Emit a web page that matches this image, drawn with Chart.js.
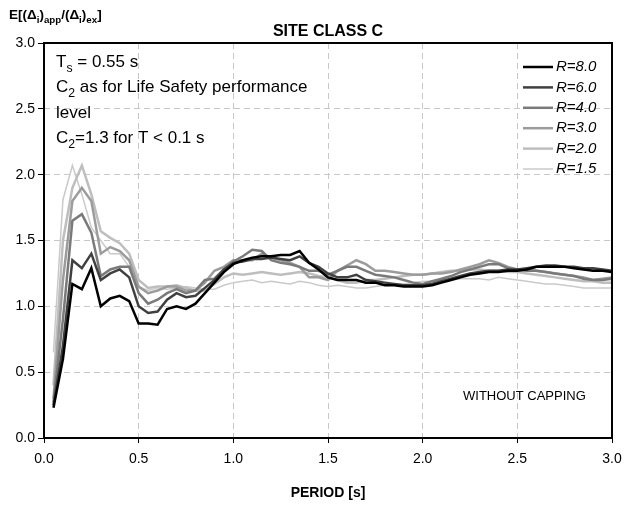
<!DOCTYPE html>
<html>
<head>
<meta charset="utf-8">
<script src="https://cdn.jsdelivr.net/npm/chart.js@4/dist/chart.umd.min.js"></script>
<style>
  html, body { margin: 0; padding: 0; background: #fff; }
</style>
</head>
<body>
<canvas id="chart" width="640" height="506"></canvas>
<script>
// Period values [s]
const periods = [0.05, 0.10, 0.15, 0.20, 0.25, 0.30, 0.35, 0.40, 0.45, 0.50,
  0.55, 0.60, 0.65, 0.70, 0.75, 0.80, 0.85, 0.90, 0.95, 1.00,
  1.05, 1.10, 1.15, 1.20, 1.25, 1.30, 1.35, 1.40, 1.45, 1.50,
  1.55, 1.60, 1.65, 1.70, 1.75, 1.80, 1.85, 1.90, 1.95, 2.00,
  2.05, 2.10, 2.15, 2.20, 2.25, 2.30, 2.35, 2.40, 2.45, 2.50,
  2.55, 2.60, 2.65, 2.70, 2.75, 2.80, 2.85, 2.90, 2.95, 3.00];

const r80 = [0.23, 0.60, 1.17, 1.13, 1.29, 1.00, 1.06, 1.08, 1.04, 0.87,
  0.87, 0.86, 0.98, 1.00, 0.98, 1.02, 1.10, 1.18, 1.26, 1.32,
  1.35, 1.37, 1.38, 1.38, 1.39, 1.39, 1.42, 1.33, 1.28, 1.22,
  1.20, 1.20, 1.20, 1.18, 1.18, 1.16, 1.16, 1.15, 1.15, 1.15,
  1.16, 1.18, 1.20, 1.22, 1.24, 1.25, 1.26, 1.26, 1.27, 1.27,
  1.28, 1.30, 1.30, 1.30, 1.30, 1.29, 1.28, 1.27, 1.27, 1.26];

const r60 = [0.25, 0.70, 1.35, 1.29, 1.40, 1.20, 1.25, 1.28, 1.22, 1.00,
  0.95, 0.96, 1.05, 1.10, 1.07, 1.08, 1.14, 1.20, 1.28, 1.33,
  1.34, 1.36, 1.36, 1.37, 1.36, 1.35, 1.38, 1.33, 1.30, 1.25,
  1.22, 1.22, 1.24, 1.20, 1.19, 1.18, 1.17, 1.16, 1.16, 1.16,
  1.17, 1.19, 1.21, 1.23, 1.25, 1.26, 1.27, 1.27, 1.28, 1.28,
  1.29, 1.30, 1.31, 1.31, 1.30, 1.30, 1.29, 1.29, 1.28, 1.27];

const r40 = [0.27, 0.90, 1.65, 1.70, 1.56, 1.23, 1.28, 1.30, 1.30, 1.10,
  1.02, 1.05, 1.10, 1.13, 1.10, 1.12, 1.20, 1.21, 1.28, 1.34,
  1.38, 1.43, 1.42, 1.35, 1.33, 1.32, 1.30, 1.27, 1.27, 1.24,
  1.27, 1.30, 1.30, 1.27, 1.24, 1.23, 1.22, 1.20, 1.18, 1.17,
  1.19, 1.21, 1.23, 1.26, 1.28, 1.30, 1.32, 1.32, 1.29, 1.28,
  1.27, 1.27, 1.26, 1.25, 1.24, 1.23, 1.21, 1.20, 1.20, 1.21];

const r30 = [0.30, 1.20, 1.80, 1.90, 1.80, 1.40, 1.45, 1.42, 1.35, 1.15,
  1.10, 1.12, 1.15, 1.15, 1.12, 1.12, 1.18, 1.27, 1.30, 1.35,
  1.35, 1.35, 1.40, 1.37, 1.35, 1.33, 1.30, 1.22, 1.22, 1.20,
  1.27, 1.31, 1.35, 1.32, 1.27, 1.27, 1.26, 1.25, 1.24, 1.24,
  1.25, 1.25, 1.26, 1.28, 1.30, 1.32, 1.35, 1.33, 1.30, 1.28,
  1.28, 1.27, 1.26, 1.25, 1.24, 1.23, 1.22, 1.20, 1.21, 1.22];

const r20 = [0.40, 1.50, 1.90, 2.07, 1.85, 1.57, 1.52, 1.48, 1.40, 1.20,
  1.14, 1.15, 1.15, 1.16, 1.14, 1.12, 1.12, 1.17, 1.22, 1.25,
  1.24, 1.25, 1.26, 1.25, 1.24, 1.25, 1.26, 1.25, 1.23, 1.22,
  1.20, 1.18, 1.18, 1.20, 1.20, 1.21, 1.22, 1.23, 1.24, 1.24,
  1.25, 1.26, 1.27, 1.27, 1.28, 1.28, 1.27, 1.27, 1.26, 1.26,
  1.25, 1.24, 1.23, 1.22, 1.21, 1.20, 1.19, 1.19, 1.18, 1.18];

const r15 = [0.65, 1.81, 2.07, 1.85, 1.60, 1.50, 1.40, 1.40, 1.30, 1.15,
  1.12, 1.14, 1.13, 1.14, 1.15, 1.14, 1.13, 1.13, 1.16, 1.18,
  1.19, 1.20, 1.18, 1.19, 1.18, 1.17, 1.19, 1.18, 1.16, 1.15,
  1.16, 1.15, 1.14, 1.14, 1.15, 1.16, 1.17, 1.17, 1.18, 1.19,
  1.19, 1.20, 1.20, 1.21, 1.21, 1.21, 1.20, 1.22, 1.21, 1.20,
  1.19, 1.18, 1.17, 1.17, 1.16, 1.15, 1.14, 1.14, 1.14, 1.14];

const seriesNames = ['R=8.0', 'R=6.0', 'R=4.0', 'R=3.0', 'R=2.0', 'R=1.5'];
const seriesValues = [r80, r60, r40, r30, r20, r15];
const seriesColors = ['#000000', '#404040', '#7a7a7a', '#9c9c9c', '#bebebe', '#cacaca'];
const seriesWidths = [2.5, 2.5, 2.5, 2.5, 2.5, 1.5];

const FONT = "'Liberation Sans', Arial, sans-serif";

// Draw a line of text where some parts are subscripts
function drawRich(ctx, x, y, parts, size, weight) {
  let cx = x;
  for (const p of parts) {
    const s = p.sub ? size * 0.72 : size;
    ctx.font = `${weight} ${s}px ${FONT}`;
    ctx.fillText(p.t, cx, p.sub ? y + size * 0.28 : y);
    cx += ctx.measureText(p.t).width;
  }
}

const decorations = {
  id: 'decorations',
  afterDraw(chart) {
    const ctx = chart.ctx;
    const a = chart.chartArea;
    ctx.save();
    // plot frame
    ctx.strokeStyle = '#000';
    ctx.lineWidth = 2;
    ctx.strokeRect(a.left, a.top, a.right - a.left, a.bottom - a.top);

    ctx.fillStyle = '#000';
    ctx.textBaseline = 'alphabetic';
    ctx.textAlign = 'center';
    ctx.font = `bold 16px ${FONT}`;
    ctx.fillText('SITE CLASS C', 328, 36);
    ctx.font = `bold 14px ${FONT}`;
    ctx.fillText('PERIOD [s]', 328, 497);

    ctx.textAlign = 'left';
    drawRich(ctx, 9, 19, [
      {t: 'E[(Δ'}, {t: 'i', sub: true}, {t: ')'}, {t: 'app', sub: true},
      {t: '/(Δ'}, {t: 'i', sub: true}, {t: ')'}, {t: 'ex', sub: true}, {t: ']'}
    ], 13.5, 'bold');

    drawRich(ctx, 56, 67, [{t: 'T'}, {t: 's', sub: true}, {t: ' = 0.55 s'}], 17, 'normal');
    drawRich(ctx, 56, 92, [{t: 'C'}, {t: '2', sub: true}, {t: ' as for Life Safety performance'}], 17, 'normal');
    drawRich(ctx, 56, 118, [{t: 'level'}], 17, 'normal');
    drawRich(ctx, 56, 143, [{t: 'C'}, {t: '2', sub: true}, {t: '=1.3 for T < 0.1 s'}], 17, 'normal');

    ctx.font = `13px ${FONT}`;
    ctx.fillText('WITHOUT CAPPING', 463, 400);

    // legend in the upper right corner of the plot
    ctx.font = `italic 15px ${FONT}`;
    ctx.textBaseline = 'middle';
    chart.data.datasets.forEach((ds, i) => {
      const y = 67 + i * 20.4;
      ctx.strokeStyle = ds.borderColor;
      ctx.lineWidth = ds.borderWidth;
      ctx.beginPath();
      ctx.moveTo(523, y);
      ctx.lineTo(553, y);
      ctx.stroke();
      ctx.fillStyle = '#000';
      ctx.fillText(ds.label, 556, y);
    });
    ctx.restore();
  }
};

new Chart(document.getElementById('chart'), {
  type: 'line',
  data: {
    datasets: seriesNames.map((name, i) => ({
      label: name,
      data: periods.map((p, j) => ({x: p, y: seriesValues[i][j]})),
      borderColor: seriesColors[i],
      borderWidth: seriesWidths[i],
      pointRadius: 0,
      tension: 0,
      fill: false,
    }))
  },
  options: {
    responsive: false,
    animation: false,
    devicePixelRatio: 1,
    layout: { padding: { top: 43, right: 28, left: 0, bottom: 0 } },
    plugins: {
      legend: { display: false },
      tooltip: { enabled: false },
      title: { display: false },
    },
    scales: {
      x: {
        type: 'linear',
        min: 0,
        max: 3,
        afterFit(scale) { scale.height = 68; },
        ticks: {
          stepSize: 0.5,
          color: '#000',
          padding: 8,
          maxRotation: 0,
          font: { family: FONT, size: 14 },
          callback: v => v.toFixed(1),
        },
        grid: {
          color: '#c8c8c8',
          lineWidth: 1,
          tickLength: 5,
          tickColor: '#000',
          tickBorderDash: [],
        },
        border: { display: false, dash: [6, 4] },
      },
      y: {
        min: 0,
        max: 3,
        afterFit(scale) { scale.width = 44; },
        ticks: {
          stepSize: 0.5,
          color: '#000',
          padding: 3,
          font: { family: FONT, size: 14 },
          callback: v => v.toFixed(1),
        },
        grid: {
          color: '#c8c8c8',
          lineWidth: 1,
          tickLength: 6,
          tickColor: '#000',
          tickBorderDash: [],
        },
        border: { display: false, dash: [6, 4] },
      }
    }
  },
  plugins: [decorations]
});
</script>
</body>
</html>
